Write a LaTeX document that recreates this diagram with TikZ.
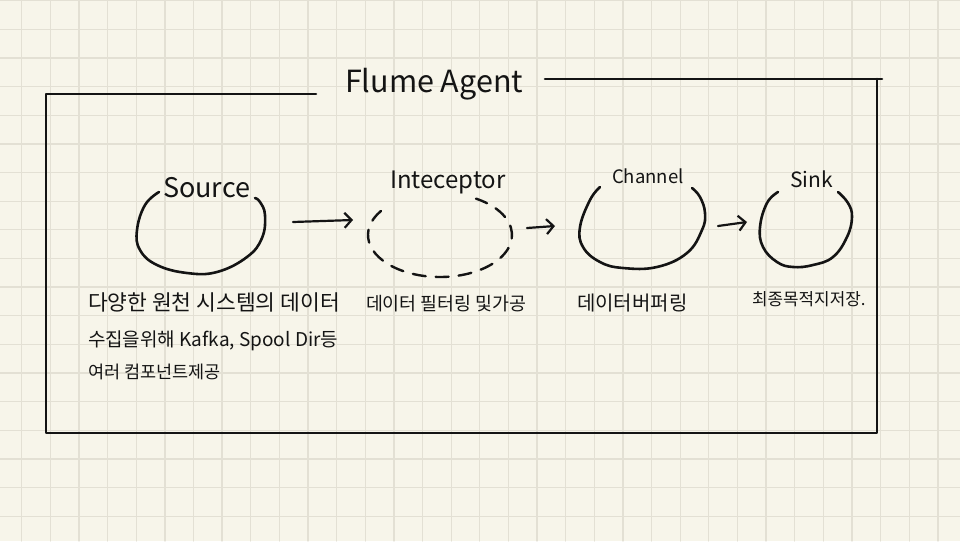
\documentclass[tikz,border=0pt]{standalone}
\usepackage{fontspec}
\setmainfont{Noto Sans CJK KR}
\usetikzlibrary{arrows.meta}
\definecolor{paper}{HTML}{F7F5EA}
\definecolor{gridc}{HTML}{E3E0D4}
\definecolor{ink}{HTML}{141414}
\tikzset{
  gridline/.style={gridc, line width=1.3pt},
  boxline/.style={ink, line width=2.6pt},
  loop/.style={ink, line width=2.6pt},
  dashloop/.style={ink, line width=2.4pt, dash pattern=on 13pt off 10pt},
  arr/.style={ink, line width=2.2pt, -{Straight Barb[length=7pt,width=15pt]}},
  lbl/.style={ink, anchor=base west, inner sep=0pt, outer sep=0pt},
}
\begin{document}
\begin{tikzpicture}[x=1pt,y=-1pt,line cap=round,line join=round]
\fill[paper] (0,0) rectangle (960,541);
\useasboundingbox (0,0) rectangle (960,541);
\begin{scope}
\clip (0,0) rectangle (960,541);
\foreach \i in {0,...,33} \draw[gridline] ({21.7+28.63*\i},0) -- ({21.7+28.63*\i},541);
\foreach \j in {0,...,19} \draw[gridline] (0,{0.6+28.65*\j}) -- (960,{0.6+28.65*\j});
\end{scope}
% agent frame
\draw[boxline] (316,94) -- (46,94) -- (46,433) -- (877,433) -- (877,79);
\draw[boxline] (545,79) -- (882,79);
\node[lbl, font=\fontsize{30.5}{36}\selectfont] (title) at (345,92) {Flume Agent};
% source
\draw[loop] plot[smooth, tension=0.7] coordinates {(159,192) (145,205) (137,230) (140,250) (157,265) (187,273) (217,272) (247,257) (262,238) (265,215) (260,202) (255,198)};
\node[lbl, font=\fontsize{27}{32}\selectfont] (srcl) at (163,197) {Source};
% interceptor
\draw[dashloop] (440,235) ++(215:72 and 42) arc[start angle=215, end angle=-60, x radius=72, y radius=42];
\node[lbl, font=\fontsize{24}{28}\selectfont] (intl) at (390,188) {Inteceptor};
% channel
\draw[loop] plot[smooth, tension=0.7] coordinates {(600,187) (590,200) (580,227) (583,247) (600,262) (623,268) (657,267) (687,253) (702,230) (705,213) (700,197) (692,188)};
\node[lbl, font=\fontsize{18.5}{22}\selectfont] (chnl) at (612,183) {Channel};
% sink
\draw[loop] plot[smooth, tension=0.7] coordinates {(778,192) (767,203) (760,227) (763,247) (777,262) (793,267) (813,265) (833,257) (847,237) (852,217) (848,203) (838,192)};
\node[lbl, font=\fontsize{21}{25}\selectfont] (snkl) at (790,187) {Sink};
% arrows
\coordinate (a1s) at (293,222); \coordinate (a1e) at (353,220);
\coordinate (a2s) at (527,228); \coordinate (a2e) at (555,226);
\coordinate (a3s) at (718,226); \coordinate (a3e) at (747,222);
\draw[arr] (a1s) -- (a1e);
\draw[arr] (a2s) -- (a2e);
\draw[arr] (a3s) -- (a3e);
% descriptions
\node[lbl, font=\fontsize{21.5}{26}\selectfont] (d1) at (88,310) {다양한 원천 시스템의 데이터};
\node[lbl, font=\fontsize{19}{24}\selectfont] (d2) at (88,346) {수집을위해 Kafka, Spool Dir등};
\node[lbl, font=\fontsize{17.5}{22}\selectfont] (d3) at (88,378) {여러 컴포넌트제공};
\node[lbl, font=\fontsize{18.4}{22}\selectfont] (intd) at (366,310) {데이터 필터링 및가공};
\node[lbl, font=\fontsize{20}{24}\selectfont] (chnd) at (577,310) {데이터버퍼링};
\node[lbl, font=\fontsize{16.9}{20}\selectfont] (snkd) at (752,305) {최종목적지저장.};
\end{tikzpicture}
\end{document}
